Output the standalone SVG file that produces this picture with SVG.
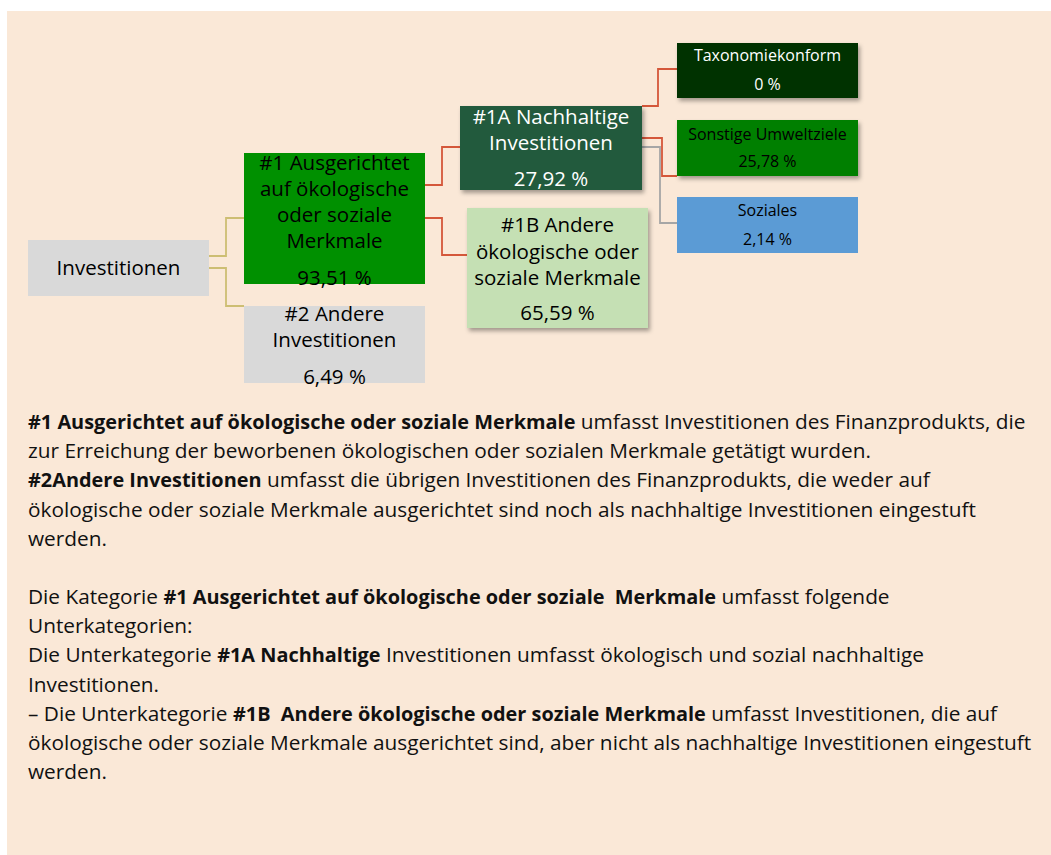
<svg xmlns="http://www.w3.org/2000/svg" width="1051" height="855" viewBox="0 0 1051 855">
<style>
.t{font-family:"Open Sans","Liberation Sans",Arial,sans-serif;font-size:20.5px;text-anchor:middle;fill:#000}
.s{font-family:"Open Sans","Liberation Sans",Arial,sans-serif;font-size:16px;text-anchor:middle;fill:#000}
.w{fill:#fff}
.b{font-family:"Open Sans","Liberation Sans",Arial,sans-serif;font-size:20.8px;fill:#111;white-space:pre}
.bd{font-weight:bold;font-size:19.9px}
.c{fill:none;stroke-width:1.8}
.red{stroke:#D4573A}
.kh{stroke:#CDBE73}
.gr{stroke:#A6A6A6}
</style>
<defs>
<filter id="sh" x="-10%" y="-10%" width="125%" height="130%">
<feDropShadow dx="2" dy="3" stdDeviation="2" flood-color="#000" flood-opacity="0.35"/>
</filter>
</defs>
<rect x="0" y="0" width="1051" height="855" fill="#fff"/>
<rect x="7" y="11" width="1044" height="844" fill="#FAE8D7"/>

<g id="connectors">
<path class="c kh" d="M209,256 H226 V218 H244"/>
<path class="c kh" d="M209,268 H226 V306 H244"/>
<path class="c red" d="M425,185 H442 V147 H460"/>
<path class="c red" d="M425,218 H442 V255 H467"/>
<path class="c gr" d="M642,147 H660 V223 H677"/>
<path class="c red" d="M642,106 H658 V69 H677"/>
<path class="c red" d="M642,138 H662 V176 H677"/>
</g>

<g id="n-investitionen">
<rect x="28" y="240" width="181" height="56" fill="#D9D9D9"/>
<text class="t" x="118.5" y="275">Investitionen</text>
</g>

<g id="n-1">
<rect x="244" y="153" width="181" height="131" fill="#009000"/>
<text class="t" x="334.5" y="169.5">#1 Ausgerichtet</text>
<text class="t" x="334.5" y="195.5">auf ökologische</text>
<text class="t" x="334.5" y="221.5">oder soziale</text>
<text class="t" x="334.5" y="247.5">Merkmale</text>
<text class="t" x="334.5" y="284.5">93,51 %</text>
</g>

<g id="n-2">
<rect x="244" y="306" width="181" height="77" fill="#D9D9D9"/>
<text class="t" x="334.5" y="321">#2 Andere</text>
<text class="t" x="334.5" y="347">Investitionen</text>
<text class="t" x="334.5" y="383.5">6,49 %</text>
</g>

<g id="n-1a">
<rect x="460" y="106" width="182" height="84" fill="#235A3E" filter="url(#sh)"/>
<text class="t w" x="551" y="123.5">#1A Nachhaltige</text>
<text class="t w" x="551" y="150">Investitionen</text>
<text class="t w" x="551" y="186">27,92 %</text>
</g>

<g id="n-1b">
<rect x="467" y="208" width="181" height="120" fill="#C5E0B4" filter="url(#sh)"/>
<text class="t" x="557.5" y="232">#1B Andere</text>
<text class="t" x="557.5" y="258.5">ökologische oder</text>
<text class="t" x="557.5" y="285">soziale Merkmale</text>
<text class="t" x="557.5" y="320">65,59 %</text>
</g>

<g id="n-taxonomie">
<rect x="677" y="43" width="181" height="55" fill="#033300" filter="url(#sh)"/>
<text class="s w" x="767.5" y="61">Taxonomiekonform</text>
<text class="s w" x="767.5" y="90">0 %</text>
</g>

<g id="n-umwelt">
<rect x="677" y="120" width="181" height="56" fill="#007F00" filter="url(#sh)"/>
<text class="s" x="767.5" y="140">Sonstige Umweltziele</text>
<text class="s" x="767.5" y="167">25,78 %</text>
</g>

<g id="n-soziales">
<rect x="677" y="197" width="181" height="56" fill="#5B9BD5"/>
<text class="s" x="767.5" y="216">Soziales</text>
<text class="s" x="767.5" y="244.5">2,14 %</text>
</g>

<g id="description">
<text class="b" x="28" y="429"><tspan class="bd">#1 Ausgerichtet auf ökologische oder soziale Merkmale</tspan> umfasst Investitionen des Finanzprodukts, die</text>
<text class="b" x="28" y="458">zur Erreichung der beworbenen ökologischen oder sozialen Merkmale getätigt wurden.</text>
<text class="b" x="28" y="487"><tspan class="bd">#2Andere Investitionen</tspan> umfasst die übrigen Investitionen des Finanzprodukts, die weder auf</text>
<text class="b" x="28" y="517">ökologische oder soziale Merkmale ausgerichtet sind noch als nachhaltige Investitionen eingestuft</text>
<text class="b" x="28" y="546">werden.</text>
<text class="b" x="28" y="604">Die Kategorie <tspan class="bd">#1 Ausgerichtet auf ökologische oder soziale  Merkmale</tspan> umfasst folgende</text>
<text class="b" x="28" y="633">Unterkategorien:</text>
<text class="b" x="28" y="662">Die Unterkategorie <tspan class="bd">#1A Nachhaltige</tspan> Investitionen umfasst ökologisch und sozial nachhaltige</text>
<text class="b" x="28" y="692">Investitionen.</text>
<text class="b" x="28" y="721">– Die Unterkategorie <tspan class="bd">#1B  Andere ökologische oder soziale Merkmale</tspan> umfasst Investitionen, die auf</text>
<text class="b" x="28" y="750">ökologische oder soziale Merkmale ausgerichtet sind, aber nicht als nachhaltige Investitionen eingestuft</text>
<text class="b" x="28" y="779">werden.</text>
</g>
</svg>
